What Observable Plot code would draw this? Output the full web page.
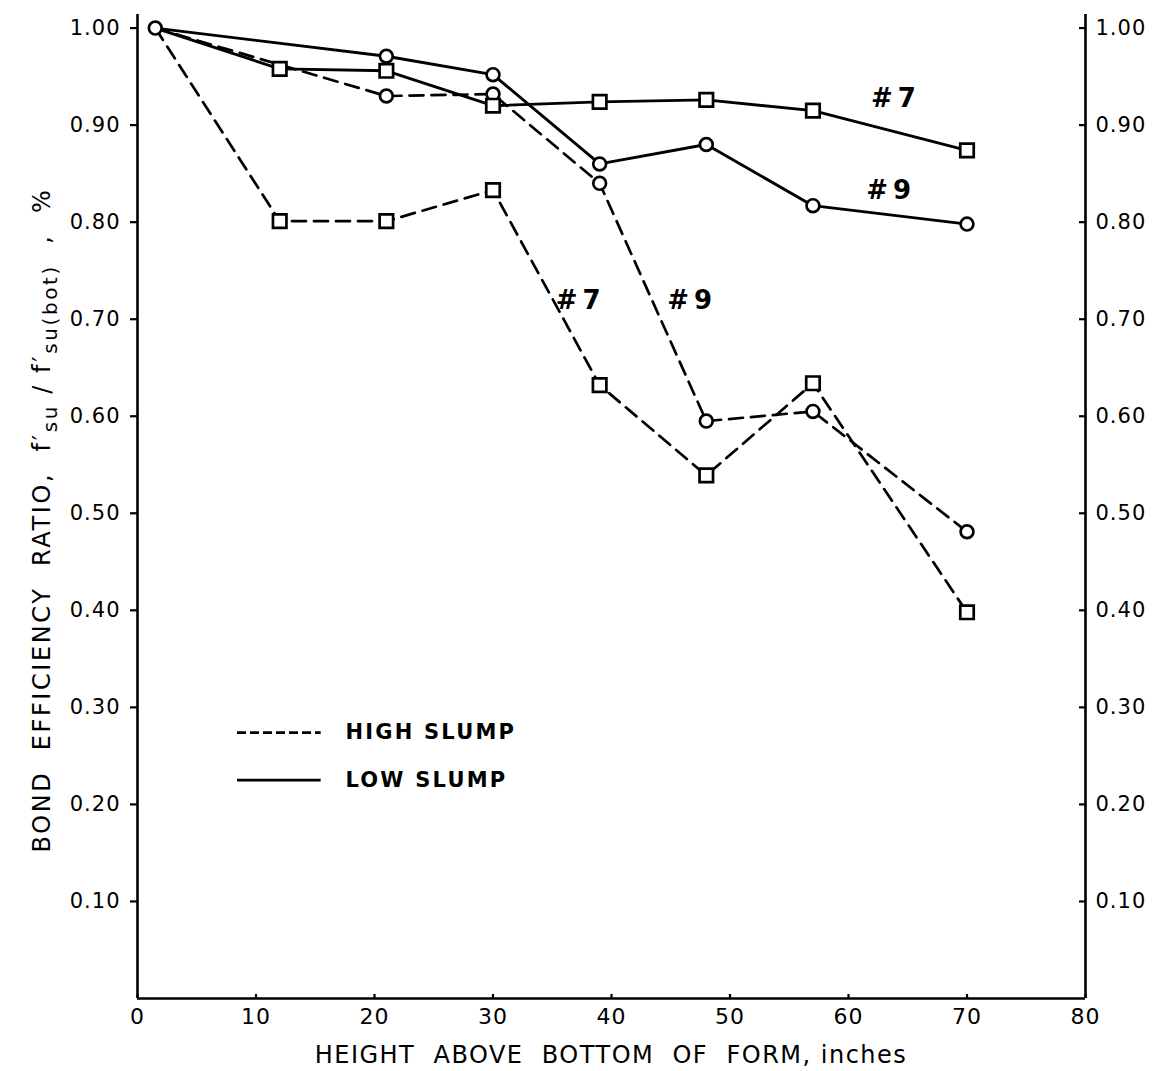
<!DOCTYPE html>
<html><head><meta charset="utf-8">
<script src="https://cdn.jsdelivr.net/npm/d3@7"></script>
<script src="https://cdn.jsdelivr.net/npm/@observablehq/plot@0.6"></script>
<style>
body{margin:0;background:#fff;}
#chart{width:1164px;height:1071px;}
svg{font-family:"DejaVu Sans",sans-serif;}
</style></head><body><div id="chart"></div>
<script>
// Series (height above bottom of form, inches -> bond efficiency ratio)
const lowNo7X  = [1.5, 12, 21, 30, 39, 48, 57, 70];
const lowNo7Y  = [1.00, 0.958, 0.956, 0.920, 0.924, 0.926, 0.915, 0.874];
const lowNo9X  = [1.5, 21, 30, 39, 48, 57, 70];
const lowNo9Y  = [1.00, 0.971, 0.952, 0.860, 0.880, 0.817, 0.798];
const highNo7X = [1.5, 12, 21, 30, 39, 48, 57, 70];
const highNo7Y = [1.00, 0.801, 0.801, 0.833, 0.632, 0.539, 0.634, 0.398];
const highNo9X = [1.5, 21, 30, 39, 48, 57, 70];
const highNo9Y = [1.00, 0.930, 0.932, 0.840, 0.595, 0.605, 0.481];

const xTicks = [0, 10, 20, 30, 40, 50, 60, 70, 80];
const yTicks = [0.1, 0.2, 0.3, 0.4, 0.5, 0.6, 0.7, 0.8, 0.9, 1.0];

const noteText = ["#7", "#9", "#7", "#9"];
const noteX    = [64, 63.6, 37.4, 46.8];
const noteY    = [0.927, 0.832, 0.719, 0.719];

const legendText = ["HIGH SLUMP", "LOW SLUMP"];
const legendY    = [0.274, 0.225];
const legendX1 = 8.44, legendX2 = 15.5, legendTextX = 17.55;

const xTitle = "HEIGHT  ABOVE  BOTTOM  OF  FORM, inches";

function rows(name, xs, ys) { return xs.map((x, i) => ({series: name, x, y: ys[i]})); }
const high = [...rows("high7", highNo7X, highNo7Y), ...rows("high9", highNo9X, highNo9Y)];
const low  = [...rows("low7", lowNo7X, lowNo7Y), ...rows("low9", lowNo9X, lowNo9Y)];
const squares = [...rows("low7", lowNo7X, lowNo7Y).slice(1), ...rows("high7", highNo7X, highNo7Y).slice(1)];
const circles = [...rows("low9", lowNo9X, lowNo9Y), ...rows("high9", highNo9X, highNo9Y).slice(1)];
const notes = noteText.map((t, i) => ({text: t, x: noteX[i], y: noteY[i]}));
const legend = legendText.map((t, i) => ({text: t, y: legendY[i]}));

const plot = Plot.plot({
  width: 1164, height: 1071,
  marginLeft: 137, marginRight: 79, marginTop: 14, marginBottom: 73,
  style: {fontFamily: "DejaVu Sans, sans-serif", background: "#fff", color: "#000"},
  x: {domain: [0, 80]},
  y: {domain: [0, 1.014]},
  marks: [
    Plot.ruleX([0, 80], {strokeWidth: 2.6}),
    Plot.ruleY([0], {strokeWidth: 2.6}),
    Plot.axisY({anchor: "left", ticks: yTicks, tickSize: 7, tickPadding: 10, strokeWidth: 2.2, fontSize: 21, tickFormat: d => d.toFixed(2), label: null}),
    Plot.axisY({anchor: "right", ticks: yTicks, tickSize: -7, strokeWidth: 2.2, tickFormat: () => "", label: null}),
    Plot.axisY({anchor: "right", ticks: yTicks, tickSize: 0, tickPadding: 10, fontSize: 21, tickFormat: d => d.toFixed(2), label: null}),
    Plot.axisX({anchor: "bottom", ticks: xTicks, tickSize: -4, strokeWidth: 2.2, tickFormat: () => "", label: null}),
    Plot.axisX({anchor: "bottom", ticks: xTicks, tickSize: 0, tickPadding: 10, fontSize: 22, tickFormat: d => String(d), label: null}),
    Plot.line(high, {x: "x", y: "y", z: "series", stroke: "#000", strokeWidth: 2.7, strokeDasharray: "14,8"}),
    Plot.line(low, {x: "x", y: "y", z: "series", stroke: "#000", strokeWidth: 2.9}),
    Plot.dot(circles, {x: "x", y: "y", r: 6.4, symbol: "circle", fill: "#fff", stroke: "#000", strokeWidth: 2.7}),
    Plot.dot(squares, {x: "x", y: "y", r: 7.6, symbol: "square", fill: "#fff", stroke: "#000", strokeWidth: 2.7}),
    Plot.text(notes, {x: "x", y: "y", text: "text", fontSize: 26, fontWeight: "bold", fill: "#000"}),
    Plot.ruleY(legend.slice(0, 1), {y: "y", x1: legendX1, x2: legendX2, strokeWidth: 2.6, strokeDasharray: "9,4"}),
    Plot.ruleY(legend.slice(1), {y: "y", x1: legendX1, x2: legendX2, strokeWidth: 2.6}),
    Plot.text(legend, {x: legendTextX, y: "y", text: "text", textAnchor: "start", fontSize: 21, fontWeight: "bold", fill: "#000"})
  ]
});
document.getElementById("chart").appendChild(plot);

const svg = d3.select(plot);
svg.selectAll("text").style("letter-spacing", "1px");
svg.selectAll("text").filter(function() { return /^#/.test(this.textContent); }).style("letter-spacing", "5px");
svg.selectAll("text").filter(function() { return /SLUMP/.test(this.textContent); }).style("letter-spacing", "2.2px");

svg.append("text")
  .attr("x", 611).attr("y", 1063)
  .attr("text-anchor", "middle")
  .attr("font-size", 24)
  .style("letter-spacing", "1.5px")
  .style("white-space", "pre")
  .attr("fill", "#000")
  .text(xTitle);

const yt = svg.append("text")
  .attr("transform", "translate(50,520) rotate(-90)")
  .attr("text-anchor", "middle")
  .attr("font-size", 24)
  .style("letter-spacing", "2.6px")
  .style("white-space", "pre")
  .attr("fill", "#000");
yt.append("tspan").text("BOND  EFFICIENCY  RATIO,  f\u2032");
yt.append("tspan").attr("dy", 7).attr("font-size", 20).text("su");
yt.append("tspan").attr("dy", -7).text(" / f\u2032");
yt.append("tspan").attr("dy", 7).attr("font-size", 20).text("su(bot)");
yt.append("tspan").attr("dy", -7).text("  ,  %");
</script>
</body></html>
